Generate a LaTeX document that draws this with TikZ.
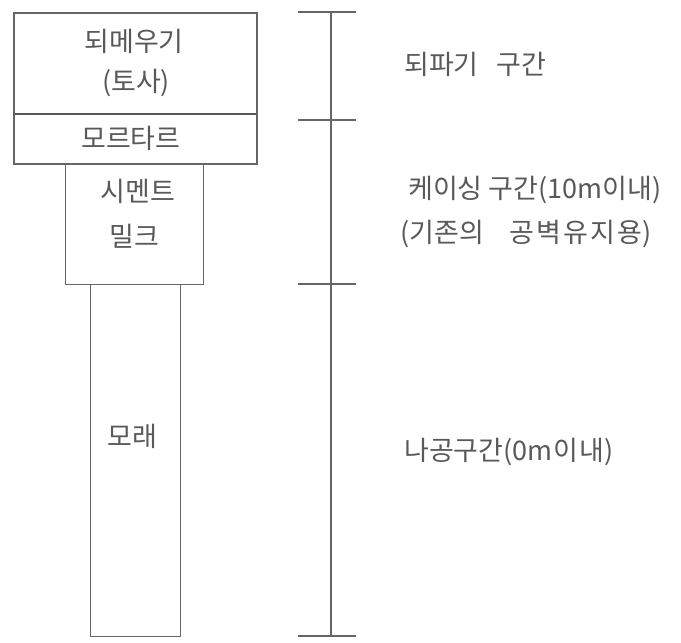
\documentclass[tikz,border=0pt]{standalone}
\usepackage{fontspec}
\newfontfamily\kr{Noto Sans CJK KR}
\begin{document}
\begin{tikzpicture}[x=1pt,y=-1pt,
  box/.style={draw=black!60, line width=1.6pt, inner sep=0pt, anchor=north west},
  lbl/.style={font=\kr\fontsize{27}{30}\selectfont, text=black!65, inner sep=0pt},
  rlbl/.style={lbl, anchor=west, font=\kr\fontsize{27}{30}\selectfont},
  scalebar/.style={draw=black!60, line width=1.5pt}]
\useasboundingbox (0,0) rectangle (681,643);
% column
\node[box, minimum width=243pt, minimum height=151pt] (top) at (13,12) {};
\coordinate (dl) at (13,114);
\coordinate (dr) at (256,114);
\draw[draw=black!65, line width=2.2pt] (dl) -- (dr);
\node[box, line width=1.3pt, minimum width=138pt, minimum height=120pt] (cem) at (65,164) {};
\node[box, line width=1.3pt, minimum width=90pt, minimum height=352pt] (sand) at (90,284) {};
% column texts
\node[lbl] (t1) at (134,41) {되메우기};
\node[lbl] (t2) at (136,83) {(토사)};
\node[lbl] (t3) at (131,138) {모르타르};
\node[lbl] (t4) at (138,191) {시멘트};
\node[lbl] (t5) at (134,236) {밀크};
\node[lbl] (t6) at (132,436) {모래};
% scale bar
\coordinate (s0) at (331,12);
\coordinate (s1) at (331,120);
\coordinate (s2) at (331,284);
\coordinate (s3) at (331,636);
\draw[scalebar] (s0) -- (s3);
\foreach \p in {s0,s1,s2,s3}{
  \draw[scalebar] ([xshift=-33pt]\p) -- ([xshift=25pt]\p);
}
% right labels
\node[rlbl] (r1) at (404,64) {되파기\hspace{18pt}구간};
\node[rlbl] (r2) at (408,190) {케이싱 구간(10m이내)};
\node[rlbl] (r3) at (400,234) {(기존의\hspace{26pt}공\hspace{2pt}벽\hspace{2pt}유\hspace{2pt}지\hspace{2pt}용)};
\node[rlbl] (r4) at (404,452) {나공구간(0m\hspace{1pt}이\hspace{1pt}내)};
\end{tikzpicture}
\end{document}
